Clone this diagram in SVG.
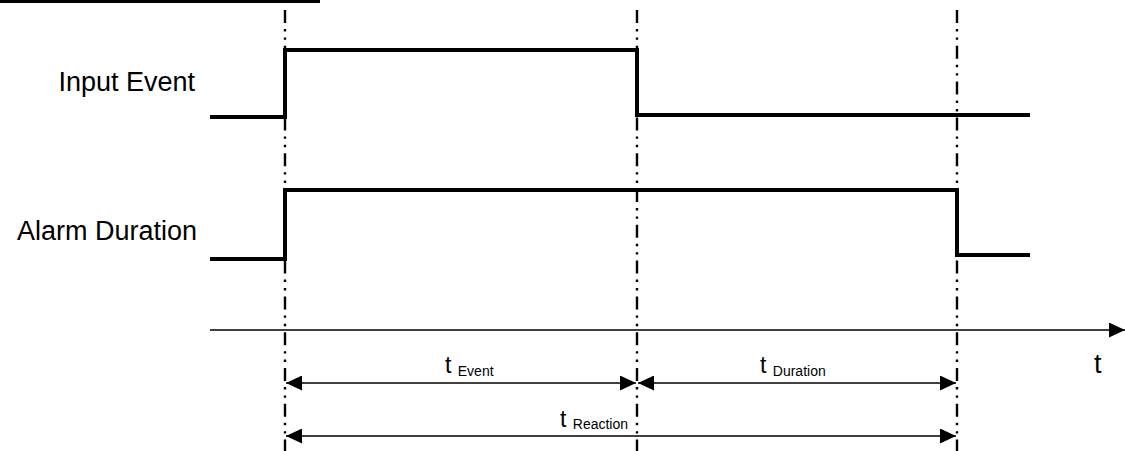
<svg xmlns="http://www.w3.org/2000/svg" width="1125" height="451" viewBox="0 0 1125 451">
<style>
.sig{fill:none;stroke:#000;stroke-width:4;stroke-linejoin:miter;stroke-linecap:butt}
.guide{fill:none;stroke:#000;stroke-width:2.4;stroke-dasharray:13 6 2.4 6 2.4 6}
.axis{fill:none;stroke:#000;stroke-width:1.6}
.dim{fill:none;stroke:#000;stroke-width:1.6}
.lbl{font-family:"Liberation Sans",Arial,sans-serif;font-size:27px;fill:#000}
.t{font-family:"Liberation Sans",Arial,sans-serif;font-size:23px;fill:#000}
.sub{font-family:"Liberation Sans",Arial,sans-serif;font-size:14px;fill:#000}
</style>
<defs>
<marker id="ah" viewBox="0 0 16 15" refX="16" refY="7.5" markerWidth="16" markerHeight="15" markerUnits="userSpaceOnUse" orient="auto-start-reverse">
<path d="M0,0 L16,7.5 L0,15 Z" fill="#000"/>
</marker>
</defs>
<rect x="0" y="0" width="320" height="3" fill="#000"/>
<g id="guides">
<line class="guide" x1="285" y1="10" x2="285" y2="451"/>
<line class="guide" x1="637" y1="10" x2="637" y2="451"/>
<line class="guide" x1="957" y1="10" x2="957" y2="451"/>
</g>
<g id="input-event">
<text class="lbl" x="195" y="91" text-anchor="end">Input Event</text>
<polyline class="sig" points="210,117 285,117 285,50 637,50 637,115 1030,115"/>
</g>
<g id="alarm-duration">
<text class="lbl" x="197" y="240" text-anchor="end">Alarm Duration</text>
<polyline class="sig" points="210,259 285,259 285,190 957,190 957,255 1030,255"/>
</g>
<g id="connectors">
<line class="axis" x1="210" y1="330" x2="1125" y2="330" marker-end="url(#ah)"/>
<line class="dim" x1="286" y1="383" x2="636" y2="383" marker-start="url(#ah)" marker-end="url(#ah)"/>
<line class="dim" x1="638" y1="383" x2="956" y2="383" marker-start="url(#ah)" marker-end="url(#ah)"/>
<line class="dim" x1="286" y1="436" x2="956" y2="436" marker-start="url(#ah)" marker-end="url(#ah)"/>
</g>
<g id="labels">
<text x="1094" y="373" class="t" style="font-size:27px">t</text>
<text x="445" y="373" class="t">t <tspan class="sub" dy="3">Event</tspan></text>
<text x="760" y="373" class="t">t <tspan class="sub" dy="3">Duration</tspan></text>
<text x="560" y="427" class="t">t <tspan class="sub" dy="2">Reaction</tspan></text>
</g>
</svg>
